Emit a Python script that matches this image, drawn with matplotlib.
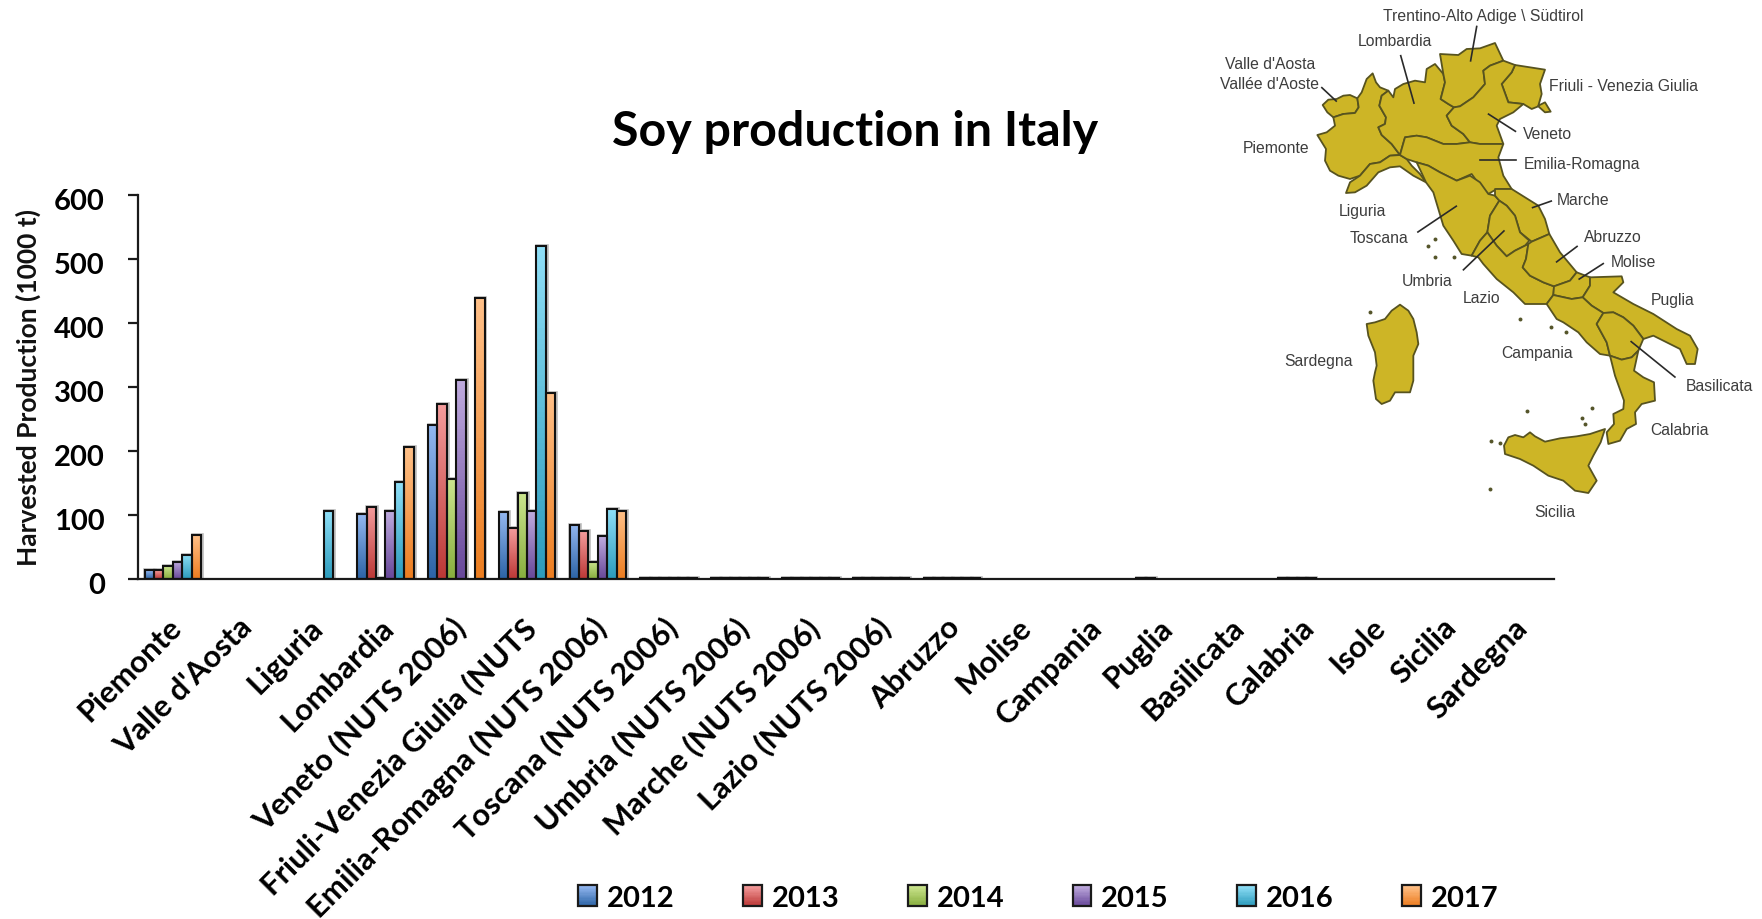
"""Soy production in Italy: grouped bars per region, with the labelled region map on top right."""
import matplotlib

matplotlib.use("Agg")
import matplotlib.pyplot as plt  # noqa: E402
import numpy as np  # noqa: E402
from matplotlib.colors import LinearSegmentedColormap  # noqa: E402
from matplotlib.legend_handler import HandlerBase  # noqa: E402
from matplotlib.patches import Polygon, Rectangle  # noqa: E402
from matplotlib.transforms import ScaledTranslation  # noqa: E402

W, H, DPI = 1762, 920, 100
FONT = "Lato"

regions = ["Piemonte", "Valle d'Aosta", "Liguria", "Lombardia", "Veneto (NUTS 2006)",
           "Friuli-Venezia Giulia (NUTS", "Emilia-Romagna (NUTS 2006)", "Toscana (NUTS 2006)",
           "Umbria (NUTS 2006)", "Marche (NUTS 2006)", "Lazio (NUTS 2006)", "Abruzzo", "Molise",
           "Campania", "Puglia", "Basilicata", "Calabria", "Isole", "Sicilia", "Sardegna"]
years = ["2012", "2013", "2014", "2015", "2016", "2017"]

prod_2012 = [14, 0, 0, 101, 241, 104, 85, 1.5, 1.5, 1.5, 1.5, 1.5, 0, 0, 1.5, 0, 1.5, 0, 0, 0]
prod_2013 = [14, 0, 0, 113, 274, 79, 75, 1.5, 1.5, 1.5, 1.5, 1.5, 0, 0, 1.5, 0, 1.5, 0, 0, 0]
prod_2014 = [20, 0, 0, 2, 156, 135, 27, 1.5, 1.5, 1.5, 1.5, 1.5, 0, 0, 0, 0, 1.5, 0, 0, 0]
prod_2015 = [27, 0, 0, 107, 311, 106, 67, 1.5, 1.5, 1.5, 1.5, 1.5, 0, 0, 0, 0, 1.5, 0, 0, 0]
prod_2016 = [38, 0, 106, 151, 0, 521, 110, 1.5, 1.5, 1.5, 1.5, 1.5, 0, 0, 0, 0, 0, 0, 0, 0]
prod_2017 = [68, 0, 0, 206, 439, 291, 107, 1.5, 1.5, 1.5, 1.5, 1.5, 0, 0, 0, 0, 0, 0, 0, 0]
series = [prod_2012, prod_2013, prod_2014, prod_2015, prod_2016, prod_2017]

# (top, bottom) of each bar's vertical gradient
grads = [("#93B7F0", "#2C64A6"), ("#F49C9C", "#BC3836"), ("#CBE58E", "#88AE3E"),
         ("#BFABDE", "#68489A"), ("#8FDFF7", "#2C9BBC"), ("#FFC088", "#EC7D20")]
cmaps = [LinearSegmentedColormap.from_list(y, g) for y, g in zip(years, grads)]

# map outlines traced by eye, each list in the pixel frame of the crop it was read from
NORTH, CENTRE, SOUTH, SARD = (1300, 30), (1400, 170), (1480, 350), (1350, 295)
map_regions = [
    (NORTH, [(68, 228), (85, 212), (110, 210), (130, 200), (150, 198), (172, 208), (176, 235), (165, 252),
             (130, 255), (100, 265), (82, 250)]),  # Valle d'Aosta
    (NORTH, [(100, 265), (130, 255), (165, 252), (176, 235), (172, 208), (185, 190), (200, 150), (218, 133),
             (228, 160), (240, 175), (265, 185), (245, 200), (238, 230), (258, 265), (255, 285), (235, 295),
             (245, 318), (275, 345), (300, 378), (270, 380), (240, 400), (210, 405), (180, 440), (150, 450),
             (115, 440), (90, 425), (75, 395), (78, 360), (52, 318), (80, 310), (105, 290)]),  # Piemonte
    (NORTH, [(300, 378), (320, 390), (335, 410), (360, 435), (378, 460), (340, 440), (300, 412), (270, 415),
             (235, 430), (200, 470), (165, 490), (138, 492), (150, 460), (180, 440), (210, 405), (240, 400),
             (270, 380)]),  # Liguria
    (NORTH, [(265, 185), (280, 205), (285, 180), (310, 165), (345, 155), (375, 160), (380, 120), (405, 105),
             (430, 135), (435, 160), (422, 210), (445, 225), (462, 235), (440, 260), (455, 290), (490, 315),
             (510, 340), (470, 345), (430, 345), (380, 325), (350, 320), (315, 325), (305, 360), (300, 378),
             (275, 345), (245, 318), (235, 295), (255, 285), (258, 265), (238, 230), (245, 200)]),  # Lombardia
    (NORTH, [(430, 135), (420, 75), (475, 78), (500, 60), (540, 58), (585, 42), (610, 95), (570, 110), (550, 125),
             (555, 165), (520, 205), (480, 232), (462, 235), (445, 225), (422, 210), (435, 160)]),  # Trentino
    (NORTH, [(645, 108), (735, 122), (720, 165), (725, 195), (715, 230), (735, 220), (752, 248), (735, 250),
             (715, 232), (695, 240), (670, 225), (625, 220), (605, 165), (635, 130)]),  # Friuli
    (NORTH, [(610, 95), (645, 108), (635, 130), (605, 165), (625, 220), (670, 225), (640, 250), (600, 270),
             (590, 290), (610, 345), (540, 345), (510, 340), (490, 315), (455, 290), (440, 260), (462, 235),
             (480, 232), (520, 205), (555, 165), (550, 125), (570, 110)]),  # Veneto
    (NORTH, [(315, 325), (350, 320), (380, 325), (430, 345), (470, 345), (510, 340), (540, 345), (610, 345),
             (595, 385), (610, 440), (635, 480), (590, 480), (565, 495), (540, 470), (515, 435), (470, 455),
             (420, 430), (385, 410), (350, 400), (320, 390), (300, 378), (305, 360)]),  # Emilia-Romagna
    (CENTRE, [(50, -20), (85, -10), (120, 10), (170, 35), (210, 20), (240, 40), (265, 75), (285, 80), (298, 95),
              (270, 140), (262, 190), (240, 215), (215, 260), (185, 255), (160, 215), (130, 170), (115, 120),
              (100, 70), (78, 40)]),  # Toscana
    (CENTRE, [(285, 60), (335, 60), (375, 85), (415, 110), (435, 150), (448, 195), (395, 218), (360, 190),
              (345, 140), (320, 110), (298, 95), (285, 80)]),  # Marche
    (CENTRE, [(298, 95), (320, 110), (345, 140), (360, 190), (388, 215), (375, 230), (345, 245), (320, 262),
              (290, 230), (262, 190), (270, 140)]),  # Umbria
    (CENTRE, [(240, 215), (262, 190), (290, 230), (320, 262), (345, 245), (375, 230), (385, 225), (378, 270),
              (368, 295), (390, 320), (430, 340), (462, 352), (460, 378), (440, 405), (375, 405), (340, 370),
              (290, 330), (250, 285), (235, 265), (215, 260)]),  # Lazio
    (CENTRE, [(395, 218), (448, 195), (480, 250), (530, 310), (510, 335), (462, 352), (430, 340), (390, 320),
              (368, 295), (378, 270), (385, 225)]),  # Abruzzo
    (CENTRE, [(530, 310), (570, 325), (570, 350), (548, 385), (515, 390), (460, 378), (462, 352), (510, 335)]),  # Molise
    (CENTRE, [(570, 325), (665, 322), (670, 340), (640, 370), (700, 405), (760, 435), (830, 480), (870, 500),
              (893, 540), (885, 585), (860, 585), (840, 540), (790, 515), (760, 500), (730, 510), (700, 470),
              (670, 445), (640, 430), (610, 432), (575, 410), (548, 385), (570, 350)]),  # Puglia
    (CENTRE, [(460, 378), (515, 390), (548, 385), (575, 410), (610, 432), (590, 465), (620, 520), (630, 560),
              (600, 555), (560, 520), (535, 490), (490, 460), (470, 450), (440, 405)]),  # Campania
    (CENTRE, [(610, 432), (640, 430), (670, 445), (700, 470), (730, 510), (715, 545), (695, 565), (665, 572),
              (630, 560), (620, 520), (590, 465)]),  # Basilicata
    (SOUTH, [(390, 20), (425, 32), (455, 25), (475, 5), (462, 65), (490, 85), (522, 100), (525, 155), (485, 165),
             (465, 190), (468, 225), (440, 240), (420, 275), (385, 285), (380, 250), (402, 225), (400, 195),
             (430, 180), (432, 155), (405, 80)]),  # Calabria
    (SOUTH, [(72, 290), (85, 265), (105, 258), (130, 265), (150, 250), (165, 262), (195, 278), (240, 268),
             (290, 262), (330, 255), (375, 240), (362, 280), (340, 320), (325, 350), (350, 395), (325, 432),
             (285, 425), (250, 395), (205, 380), (160, 350), (120, 330), (75, 315)]),  # Sicilia
    (SARD, [(50, 90), (75, 85), (105, 75), (125, 50), (150, 32), (175, 50), (190, 75), (200, 115), (205, 150),
            (190, 185), (190, 260), (180, 295), (135, 295), (120, 320), (95, 330), (78, 315), (70, 260), (75, 235),
            (80, 215), (75, 175), (55, 125)]),  # Sardegna
]
map_labels = [("Trentino-Alto Adige \\ Südtirol", 790, 47), ("Lombardia", 545, 120), ("Valle d'Aosta", 195, 188),
              ("Vallée d'Aoste", 195, 245), ("Friuli - Venezia Giulia", 1182, 253), ("Veneto", 970, 392),
              ("Piemonte", 212, 432), ("Emilia-Romagna", 1065, 478), ("Marche", 1070, 583), ("Liguria", 453, 615),
              ("Toscana", 500, 693), ("Abruzzo", 1153, 690), ("Molise", 1208, 764), ("Umbria", 633, 820),
              ("Lazio", 785, 870), ("Puglia", 1320, 873), ("Sardegna", 330, 1052), ("Campania", 940, 1030),
              ("Basilicata", 1450, 1125), ("Calabria", 1338, 1252), ("Sicilia", 990, 1492)]
map_leaders = [((772, 80), (755, 180)), ((560, 165), (597, 303)), ((340, 258), (380, 297)),
               ((880, 385), (805, 335)), ((882, 468), (780, 468)), ((980, 588), (928, 607)),
               ((608, 678), (715, 603)), ((735, 788), (848, 675)), ((1052, 720), (995, 765)),
               ((1125, 770), (1058, 815)), ((1325, 1100), (1203, 997))]
map_islets = [(655, 697), (637, 720), (657, 752), (710, 750), (893, 932), (978, 955), (1020, 968), (913, 1198),
              (1095, 1190), (1065, 1220), (1075, 1238), (812, 1287), (836, 1292), (808, 1426), (475, 910)]


def crop_px(pts, origin):
    return [(origin[0] + px / 3, origin[1] + py / 3) for px, py in pts]


def wide_px(pts):
    return [(1200 + px / 2.79, py / 2.91) for px, py in pts]


class GradientSwatch(HandlerBase):
    """Legend key with the same top-to-bottom gradient as the bars."""

    def __init__(self, cmap):
        super().__init__()
        self.cmap = cmap

    def create_artists(self, legend, orig_handle, xdescent, ydescent, width, height, fontsize, trans):
        n = 16
        out = [Rectangle((-xdescent, -ydescent + height * i / n), width, height / n + 0.3,
                         fc=self.cmap(1 - i / (n - 1)), ec="none", transform=trans) for i in range(n)]
        out.append(Rectangle((-xdescent, -ydescent), width, height, fc="none", ec="#1a1a1a", lw=1.6, transform=trans))
        return out


def gradient_bars(ax, xs, vals, width, cmap):
    grad = np.linspace(0, 1, 64).reshape(-1, 1)
    for x, v in zip(xs, vals):
        if v <= 0:
            continue
        ax.imshow(grad, cmap=cmap, aspect="auto", origin="upper", zorder=2,
                  extent=(x - width / 2, x + width / 2, 0, v))
        # soft shadow, then outline
        ax.bar(x + 0.012, v, width, color="none", edgecolor="#bbbbbb", linewidth=2.6, zorder=1)
        ax.bar(x, v, width, color="none", edgecolor="#111111", linewidth=1.5, zorder=3)


fig = plt.figure(figsize=(W / DPI, H / DPI), dpi=DPI)
ax = fig.add_axes([137.5 / W, 1 - 580 / H, (1554 - 137.5) / W, (580 - 196) / H])

bar_w = 0.8 / 6
x = np.arange(len(regions)) + 0.5
for i, vals in enumerate(series):
    gradient_bars(ax, x + (i - 2.5) * bar_w, vals, bar_w, cmaps[i])

ax.set_xlim(0, len(regions))
ax.set_ylim(0, 600)
for s in ("top", "right"):
    ax.spines[s].set_visible(False)
for s in ("left", "bottom"):
    ax.spines[s].set_linewidth(1.6)
    ax.spines[s].set_color("#1a1a1a")
ax.set_yticks(range(0, 601, 100))
ax.tick_params(axis="y", length=7.5, width=1.6, pad=16, color="#1a1a1a")
for lab in ax.get_yticklabels():
    lab.set(fontsize=21, fontweight="bold", family=FONT, color="black")
    lab.set_transform(lab.get_transform() + ScaledTranslation(0, -3 / DPI, fig.dpi_scale_trans))
ax.set_xticks(x)
ax.set_xticklabels(regions, rotation=45, ha="right", va="top", rotation_mode="anchor",
                   fontsize=22.2, fontweight="bold", family=FONT)
ax.tick_params(axis="x", length=0, pad=24)
for lab in ax.get_xticklabels():
    lab.set_transform(lab.get_transform() + ScaledTranslation(-6 / DPI, 0, fig.dpi_scale_trans))

fig.text(28 / W, 1 - 388 / H, "Harvested Production (1000 t)", rotation=90, ha="center", va="center",
         fontsize=19, fontweight="bold", family=FONT, color="#111111")
fig.text(855 / W, 1 - 132 / H, "Soy production in Italy", ha="center", va="center",
         fontsize=34.8, fontweight="bold", family=FONT)

handles = [Rectangle((0, 0), 1, 1) for _ in years]
fig.legend(handles, years, handler_map={h: GradientSwatch(c) for h, c in zip(handles, cmaps)},
           loc="center left", bbox_to_anchor=(578 / W, 1 - 899 / H), ncol=6, frameon=False,
           handlelength=0.65, handleheight=0.72, handletextpad=0.34, columnspacing=2.34, borderaxespad=0, borderpad=0,
           prop={"family": FONT, "weight": "bold", "size": 21})

# map, in its own transparent axes over the top right, data units are figure pixels
mx = fig.add_axes([1200 / W, 1 - 540 / H, 562 / W, 540 / H], facecolor="none")
mx.set_xlim(1200, 1762)
mx.set_ylim(540, 0)
mx.axis("off")
for origin, pts in map_regions:
    mx.add_patch(Polygon(crop_px(pts, origin), closed=True, fc="#CDB526", ec="#57531F", lw=1.3, joinstyle="round"))
mx.scatter(*zip(*wide_px(map_islets)), s=8, c="#55552a", linewidths=0)
for a, b in map_leaders:
    mx.plot(*zip(*wide_px([a, b])), color="#2a2a2a", lw=1.2)
for name, lx, ly in map_labels:
    px, py = wide_px([(lx, ly)])[0]
    mx.text(px, py, name, ha="center", va="center", fontsize=11.3, family="Liberation Sans", color="#3d3d3d")

fig.savefig("out.png", dpi=DPI)
